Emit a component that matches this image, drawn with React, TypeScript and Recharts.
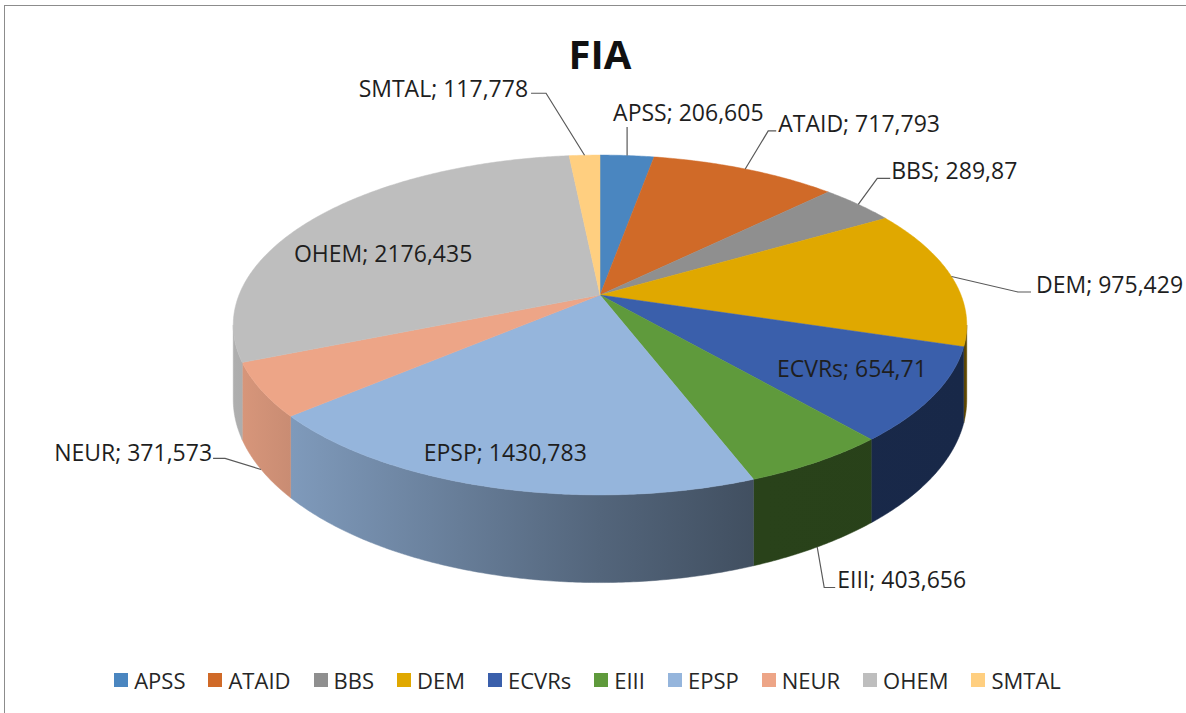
import { PieChart, Pie, Cell, Legend } from "recharts";

const categories = ["APSS", "ATAID", "BBS", "DEM", "ECVRs", "EIII", "EPSP", "NEUR", "OHEM", "SMTAL"];
const values = [206.605, 717.793, 289.87, 975.429, 654.71, 403.656, 1430.783, 371.573, 2176.435, 117.778];
const colors = ["#4a86c0", "#d06a28", "#8f8f8f", "#e0a800", "#3a5fab", "#5f9a3c", "#95b5dc", "#eda587", "#bebebe", "#ffcf80"];

const FONT = "'Open Sans', sans-serif";

// fake 3D: tilted disc with a bit of perspective
const TILT = 0.456; // vertical squash of the top face
const PERSP = 0.1765; // near side bigger than far side
const DEPTH = 0.2; // thickness, relative to radius
const VIS_FROM = (Math.acos(-PERSP) * 180) / Math.PI;
const VIS_TO = 360 - VIS_FROM;

// side wall shading from left to right
const sideStops = [
  [0, 0.92],
  [0.08, 0.85],
  [0.5, 0.56],
  [0.72, 0.43],
  [1, 0.42],
];

// where the data labels sit (Excel placed them by hand)
const labelLayout: any[] = [
  { mode: "out", level: 0, ex: 0, ey: -28.5, hx: 0, tx: -14, ty: -6, anchor: "start" },
  { mode: "out", level: 0, ex: 23, ey: -38, hx: 8, tx: 2, ty: 1, anchor: "start" },
  { mode: "out", level: 0, ex: 19, ey: -26, hx: 13, tx: 1, ty: 1, anchor: "start" },
  { mode: "out", level: 0, ex: 66.5, ey: 15.5, hx: 13, tx: 5, ty: 1, anchor: "start" },
  { mode: "in", r: 0.75, dx: 8, dy: 0 },
  { mode: "out", level: 1, ex: 7, ey: 40.5, hx: 11, tx: 2, ty: 0, anchor: "start" },
  { mode: "in", r: 0.86, dx: -5, dy: -4 },
  { mode: "out", level: 1, ex: -36, ey: -11, hx: -12, tx: -1, ty: 3, anchor: "end" },
  { mode: "in", r: 0.62, dx: -35, dy: 8 },
  { mode: "out", level: 0, ex: -38.5, ey: -62, hx: -15, tx: -3, ty: 4, anchor: "end" },
];

const data = categories.map((name, i) => ({ name, value: values[i] }));

const shade = (hex: string, f: number) => {
  const n = parseInt(hex.slice(1), 16);
  const r = Math.round(((n >> 16) & 255) * f);
  const g = Math.round(((n >> 8) & 255) * f);
  const b = Math.round((n & 255) * f);
  return `rgb(${r},${g},${b})`;
};

// phi: clockwise degrees from 12 o'clock
const project = (cx: number, cy: number, R: number, phi: number, r = 1, level = 0) => {
  const rad = (phi * Math.PI) / 180;
  const w = 1 + PERSP * r * Math.cos(rad);
  return {
    x: cx + (R * r * Math.sin(rad)) / w,
    y: cy - (R * TILT * r * Math.cos(rad)) / w + (level * R * DEPTH) / w,
  };
};

const arcPoints = (cx: number, cy: number, R: number, from: number, to: number, level: number) => {
  const n = Math.max(2, Math.ceil((to - from) / 0.5));
  const pts = [];
  for (let k = 0; k <= n; k++) {
    const p = project(cx, cy, R, from + ((to - from) * k) / n, 1, level);
    pts.push(`${p.x.toFixed(2)},${p.y.toFixed(2)}`);
  }
  return pts;
};

const Slice3D = (props: any) => {
  const { cx, cy, outerRadius, startAngle, endAngle } = props;
  const name = props.name ?? props.payload?.name;
  const idx = categories.indexOf(name);
  const fill = colors[idx] ?? props.fill;
  const p0 = 90 - startAngle;
  const p1 = 90 - endAngle;
  const top = arcPoints(cx, cy, outerRadius, p0, p1, 0);
  const s0 = Math.max(p0, VIS_FROM);
  const s1 = Math.min(p1, VIS_TO);
  let side = null;
  if (s1 > s0) {
    const upper = arcPoints(cx, cy, outerRadius, s0, s1, 0);
    const lower = arcPoints(cx, cy, outerRadius, s0, s1, 1).reverse();
    side = <path d={`M${upper.join("L")}L${lower.join("L")}Z`} fill={`url(#side-${idx})`} stroke={`url(#side-${idx})`} strokeWidth={0.5} />;
  }
  return (
    <g>
      <defs>
        <linearGradient id={`side-${idx}`} gradientUnits="userSpaceOnUse" x1={cx - outerRadius * 1.02} x2={cx + outerRadius * 1.02} y1={0} y2={0}>
          {sideStops.map(([o, f]) => (
            <stop key={o} offset={o} stopColor={shade(fill, f)} />
          ))}
        </linearGradient>
      </defs>
      {side}
      <path d={`M${cx},${cy}L${top.join("L")}Z`} fill={fill} stroke={fill} strokeWidth={0.5} />
    </g>
  );
};

const renderLabel = (props: any) => {
  const { cx, cy, midAngle, outerRadius, name, value } = props;
  const lay = labelLayout[categories.indexOf(name)];
  const phi = 90 - midAngle;
  const text = `${name}; ${String(value).replace(".", ",")}`;
  const style = { fontFamily: FONT, fontSize: 23, fill: "#1e1e1e" };
  if (lay.mode === "in") {
    const p = project(cx, cy, outerRadius, phi, lay.r, 0);
    return (
      <text x={p.x + lay.dx} y={p.y + lay.dy} textAnchor="middle" dominantBaseline="central" style={style}>
        {text}
      </text>
    );
  }
  const a = project(cx, cy, outerRadius, phi, 1, lay.level);
  const e = { x: a.x + lay.ex, y: a.y + lay.ey };
  const h = { x: e.x + lay.hx, y: e.y };
  return (
    <g>
      <polyline points={`${a.x},${a.y} ${e.x},${e.y} ${h.x},${h.y}`} fill="none" stroke="#595959" strokeWidth={1.2} />
      <text x={h.x + lay.tx} y={h.y + lay.ty} textAnchor={lay.anchor} style={style}>
        {text}
      </text>
    </g>
  );
};

const renderLegend = () => (
  <div style={{ display: "flex", justifyContent: "center", alignItems: "center", gap: 23, height: 30 }}>
    {categories.map((c, i) => (
      <div key={c} style={{ display: "flex", alignItems: "center" }}>
        <span style={{ width: 14, height: 14, background: colors[i], marginRight: 6, display: "inline-block" }} />
        <span style={{ fontFamily: FONT, fontSize: 22, color: "#262626", lineHeight: "30px" }}>{c}</span>
      </div>
    ))}
  </div>
);

export default function App() {
  return (
    <div style={{ position: "absolute", left: 0, top: 0, width: 1186, height: 713, overflow: "hidden", background: "#fff" }}>
      <div style={{ position: "absolute", left: 4, top: 5, width: 1220, height: 730, border: "1px solid #8c8c8c" }} />
      <svg width={1186} height={90} style={{ position: "absolute", left: 0, top: 0 }}>
        <text x={600} y={69} textAnchor="middle" style={{ fontFamily: FONT, fontSize: 40, fontWeight: 700, fill: "#111" }}>
          FIA
        </text>
      </svg>
      <div style={{ position: "absolute", left: 0, top: 0 }}>
        <PieChart width={1186} height={705} margin={{ top: 0, right: 0, bottom: 0, left: 0 }}>
          <Pie
            data={data}
            dataKey="value"
            nameKey="name"
            cx={600}
            cy={295}
            outerRadius={361}
            startAngle={90}
            endAngle={-270}
            isAnimationActive={false}
            inactiveShape={Slice3D}
            activeShape={Slice3D}
            shape={Slice3D}
            label={renderLabel}
            labelLine={false}
          >
            {data.map((d, i) => (
              <Cell key={d.name} fill={colors[i]} />
            ))}
          </Pie>
          <Legend
            verticalAlign="bottom"
            content={renderLegend}
            wrapperStyle={{ left: 0, width: 1175, bottom: 10 }}
          />
        </PieChart>
      </div>
    </div>
  );
}
